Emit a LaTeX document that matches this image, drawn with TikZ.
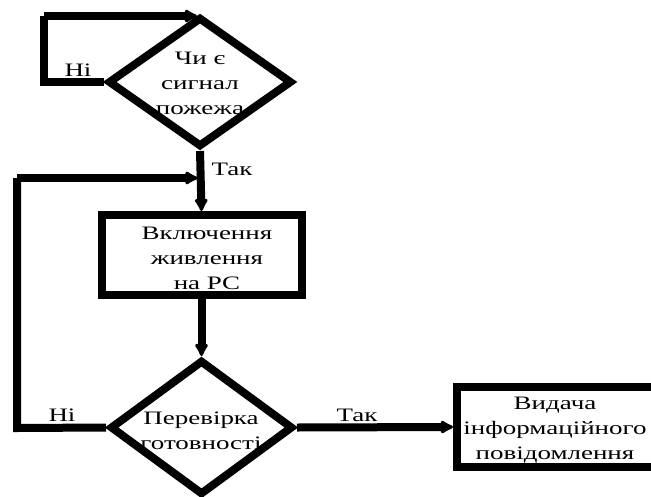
\documentclass[tikz,border=0pt]{standalone}
\usepackage{fontspec}
\setmainfont[FakeStretch=1.42]{Liberation Serif}
\usetikzlibrary{shapes.geometric,arrows.meta}

\tikzset{
  flow/.style={line width=8pt, line join=miter},
  decision/.style={flow, draw, shape=diamond, inner sep=0pt,
    minimum width=184pt, minimum height=130pt},
  process/.style={flow, draw, rectangle, inner sep=0pt,
    minimum width=200pt, minimum height=80pt},
  txt/.style={align=center, inner sep=0pt,
    font=\fontsize{19}{25}\selectfont},
  lbl/.style={inner sep=0pt, anchor=base, font=\fontsize{19}{22}\selectfont},
  arr/.style={flow, -{Latex[length=15pt,width=16pt,round]}},
}

\begin{document}
\begin{tikzpicture}[x=1pt,y=-1pt]
  \useasboundingbox (0,0) rectangle (651,496);
  \clip (0,0) rectangle (651,496);

  % blocks
  \node[decision] (d1) at (200,82) {};
  \node[process]  (b1) at (201.5,255) {};
  \node[decision, minimum width=183pt, minimum height=135pt] (d2) at (201.5,427.5) {};
  \node[process]  (b2) at (557,427) {};

  % block texts
  \node[txt] (t1) at (200,83) {Чи є\\сигнал\\пожежа};
  \node[txt] (t2) at (207,258) {Включення\\живлення\\на РС};
  \node[txt] (t3) at (201,431) {Перевірка\\готовності};
  \node[txt] (t4) at (555,430) {Видача\\інформаційного\\повідомлення};

  % loop corners and junction
  \coordinate (c1) at (44,82);
  \coordinate (c2) at (44,16);
  \coordinate (c3) at (17,428);
  \coordinate (c4) at (17,178);
  \coordinate (j1) at (197,16);
  \coordinate (j2) at (197.5,178);

  % connectors
  \draw[flow] (d1.west) -- (c1) -- (c2);
  \draw[arr] (c2) -- (j1);
  \draw[arr] (d1.south) -- (b1.north);
  \draw[flow] (d2.west) -- (c3) -- (c4);
  \draw[arr] (c4) -- (j2);
  \draw[arr] (b1.south) -- (d2.north);
  \draw[arr] (d2.east) -- (b2.west);

  % branch labels (placed by baseline)
  \node[lbl] (n1) at (78,76) {Ні};
  \node[lbl] (y1) at (232,175) {Так};
  \node[lbl] (n2) at (62,421) {Ні};
  \node[lbl] (y2) at (357,421) {Так};
\end{tikzpicture}
\end{document}
